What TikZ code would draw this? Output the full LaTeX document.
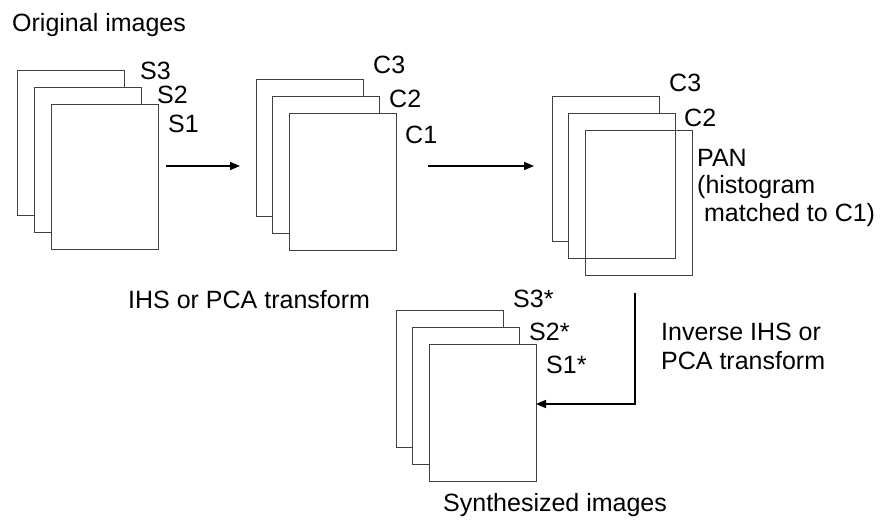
\documentclass[tikz,border=0pt]{standalone}
\usepackage{fontspec}
\setmainfont{Liberation Sans}
\usetikzlibrary{arrows.meta}
\begin{document}
\begin{tikzpicture}[x=1pt,y=-1pt,
  sheet/.style={draw=black!75, line width=1pt, fill=white, inner sep=0pt, anchor=north west, minimum width=107pt},
  tall/.style={minimum height=145pt},
  short/.style={minimum height=137pt},
  lbl/.style={anchor=base west, inner sep=0pt, font=\fontsize{25}{30}\selectfont},
  arr/.style={-{Triangle[length=10pt,width=8pt]}, line width=1.6pt, black}]
\useasboundingbox (0,0) rectangle (886,524);
% stack 1
\node[sheet,tall] (s1b) at (17,70) {};
\node[sheet,tall] (s1m) at (34,87) {};
\node[sheet,tall] (s1f) at (51,104) {};
% stack 2
\node[sheet,short] (s2b) at (256,79) {};
\node[sheet,short] (s2m) at (272,96) {};
\node[sheet,short] (s2f) at (289,113) {};
% stack 3
\node[sheet,tall] (s3b) at (552,96) {};
\node[sheet,tall] (s3m) at (568,113) {};
\node[sheet,tall,fill=none] (s3f) at (585,130) {};
% stack 4
\node[sheet,short] (s4b) at (396,310) {};
\node[sheet,short] (s4m) at (412,327) {};
\node[sheet,short] (s4f) at (429,344) {};
% labels
\node[lbl] (t1) at (12,32) {Original images};
\node[lbl] (ls3) at (140,80) {S3};
\node[lbl] (ls2) at (157,104) {S2};
\node[lbl] (ls1) at (168,132) {S1};
\node[lbl] (lc3) at (373,74) {C3};
\node[lbl] (lc2) at (389,108) {C2};
\node[lbl] (lc1) at (405,143) {C1};
\node[lbl] (mc3) at (669,92) {C3};
\node[lbl] (mc2) at (684,127) {C2};
\node[lbl] (pan1) at (697,166) {PAN};
\node[lbl] (pan2) at (697,193) {(histogram};
\node[lbl] (pan3) at (697,221) {\ matched to C1)};
\node[lbl] (t2) at (128,308) {IHS or PCA transform};
\node[lbl] (t3a) at (661,340) {Inverse IHS or};
\node[lbl] (t3b) at (661,369) {PCA transform};
\node[lbl] (ss3) at (513,307) {S3*};
\node[lbl] (ss2) at (529,340) {S2*};
\node[lbl] (ss1) at (546,373) {S1*};
\node[lbl] (t4) at (443,511) {Synthesized images};
% connectors
\coordinate (a1s) at (166,166);
\coordinate (a1e) at (240,166);
\coordinate (a2s) at (428,166);
\coordinate (a2e) at (534,166);
\coordinate (a3s) at (635,293);
\coordinate (a3e) at (536,404);
\draw[arr] (a1s) -- (a1e);
\draw[arr] (a2s) -- (a2e);
\draw[arr] (a3s) |- (a3e);
\end{tikzpicture}
\end{document}
